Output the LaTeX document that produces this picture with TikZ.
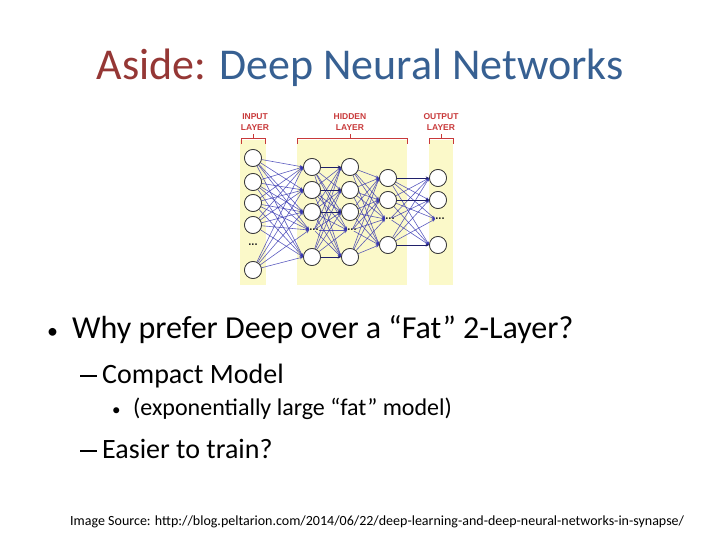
\documentclass[tikz,border=0pt]{standalone}
\usepackage{fontspec}
\setmainfont{Carlito}
\newfontfamily\lblfont{Liberation Sans}
\usetikzlibrary{arrows.meta}
\definecolor{asidered}{HTML}{953735}
\definecolor{titleblue}{HTML}{376092}
\definecolor{layerbg}{HTML}{FBF9C9}
\definecolor{bracketred}{HTML}{C8393A}
\definecolor{edgeblue}{HTML}{3535B0}
\tikzset{
  neuron/.style={circle,draw=black!80,fill=white,line width=0.7pt,minimum size=17pt,inner sep=0pt},
  dotsnode/.style={inner sep=0pt,font=\lblfont\bfseries\fontsize{11}{12}\selectfont,text=black!85},
  edge/.style={draw=edgeblue,opacity=0.8,line width=0.6pt,-{Stealth[length=3.5pt,width=3pt]}},
  strongedge/.style={draw=edgeblue!60!black,line width=0.9pt,-{Stealth[length=3.5pt,width=3pt]}},
  layerbox/.style={fill=layerbg,draw=none},
  bracket/.style={draw=bracketred,line width=0.8pt},
  layerlabel/.style={text=bracketred,font=\lblfont\bfseries\fontsize{8.5}{11}\selectfont,align=center,inner sep=0pt},
  txt/.style={anchor=base west,inner sep=0pt}
}
\newcommand{\mydash}{\raisebox{6pt}{\rule{17pt}{1.8pt}}}
\begin{document}
\begin{tikzpicture}[x=1pt,y=-1pt]
\useasboundingbox (0,0) rectangle (720,540);
% title
\node[anchor=base,inner sep=0pt,font=\fontsize{44}{52}\selectfont] (title) at (360,80)
  {\textcolor{asidered}{Aside:} \textcolor{titleblue}{Deep Neural Networks}};
% layer backgrounds
\fill[layerbox] (240,140) rectangle (266,285);
\fill[layerbox] (297,140) rectangle (407,285);
\fill[layerbox] (429,140) rectangle (453,285);
% brackets
\draw[bracket] (241,144) -- (241,138) -- (265,138) -- (265,144) (253,138) -- (253,134);
\draw[bracket] (297,144) -- (297,138) -- (407,138) -- (407,144) (350,138) -- (350,134);
\draw[bracket] (429,144) -- (429,138) -- (453,138) -- (453,144) (441,138) -- (441,134);
\node[layerlabel] (linput) at (255,122.5) {INPUT\\LAYER};
\node[layerlabel] (lhidden) at (350,122.5) {HIDDEN\\LAYER};
\node[layerlabel] (loutput) at (441,122.5) {OUTPUT\\LAYER};
% neurons
\foreach \n/\y in {1/158,2/182,3/203,4/225,5/270} \node[neuron] (i\n) at (253,\y) {};
\coordinate (id) at (253,245);
\node[dotsnode] at (id) {...};
\foreach \n/\y in {1/167,2/190,3/212,5/257} {
  \node[neuron] (a\n) at (312,\y) {};
  \node[neuron] (b\n) at (350,\y) {};
}
\node[dotsnode] (a4) at (314,230) {...};
\node[dotsnode] (b4) at (352,230) {...};
\foreach \n/\y in {1/178,2/200,4/245} {
  \node[neuron] (c\n) at (388,\y) {};
  \node[neuron] (o\n) at (438,\y) {};
}
\node[dotsnode] (c3) at (390,219) {...};
\node[dotsnode] (o3) at (440,219) {...};
% edges
\foreach \s in {1,2,3,4,5} \foreach \t in {1,2,3,4,5} \draw[edge] (i\s) -- (a\t.west);
\foreach \s in {1,2,3,4,5} \foreach \t in {1,2,3,4,5} {
  \ifnum\s=\t\else\draw[edge] (a\s) -- (b\t.west);\fi
}
\foreach \s in {1,2,3,5} \draw[strongedge] (a\s) -- (b\s);
\draw[edge] (a4) -- (b4.west);
\foreach \s in {1,2,3,4,5} \foreach \t in {1,2,3,4} \draw[edge] (b\s) -- (c\t.west);
\foreach \s in {1,2,3,4} \foreach \t in {1,2,3,4} {
  \ifnum\s=\t\else\draw[edge] (c\s) -- (o\t.west);\fi
}
\foreach \s in {1,2,4} \draw[strongedge] (c\s) -- (o\s);
% redraw neurons on top
\foreach \n/\y in {1/158,2/182,3/203,4/225,5/270} \node[neuron] at (253,\y) {};
\foreach \n/\y in {1/167,2/190,3/212,5/257} {
  \node[neuron] at (312,\y) {};
  \node[neuron] at (350,\y) {};
}
\foreach \n/\y in {1/178,2/200,4/245} {
  \node[neuron] at (388,\y) {};
  \node[neuron] at (438,\y) {};
}
% text
\node[txt,font=\fontsize{22}{26}\selectfont] (bul1) at (47,338) {•};
\node[txt,font=\fontsize{32}{38}\selectfont] (b1) at (72,338) {Why prefer Deep over a “Fat” 2-Layer?};
\node[txt,font=\fontsize{28}{34}\selectfont] (d1) at (80,383) {\mydash\hspace{5pt}Compact Model};
\node[txt,font=\fontsize{17}{20}\selectfont] (bul2) at (112,415) {•};
\node[txt,font=\fontsize{24}{29}\selectfont] (b2) at (133,415) {(exponentially large “fat” model)};
\node[txt,font=\fontsize{28}{34}\selectfont] (d2) at (80,458) {\mydash\hspace{5pt}Easier to train?};
\node[txt,font=\fontsize{14}{17}\selectfont] (src) at (70,525) {Image Source: http://blog.peltarion.com/2014/06/22/deep-learning-and-deep-neural-networks-in-synapse/};
\end{tikzpicture}
\end{document}
